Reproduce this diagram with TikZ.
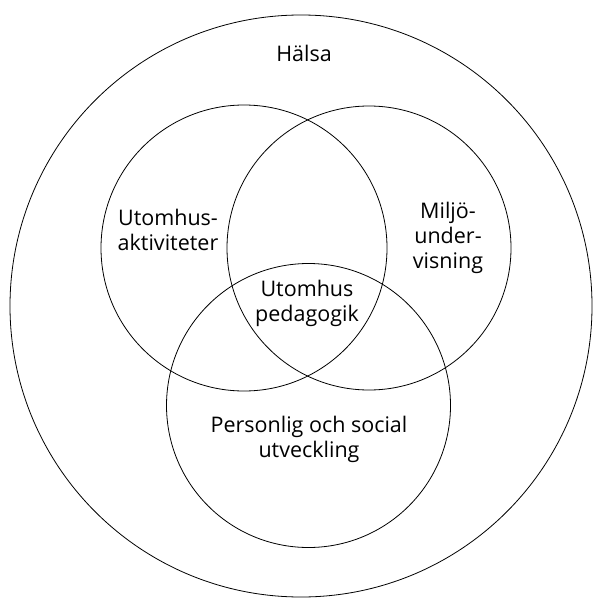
\documentclass[tikz,border=0pt]{standalone}
\usepackage{fontspec}
\setmainfont{Open Sans}

\begin{document}
\begin{tikzpicture}[
x=1pt, y=-1pt,
ring/.style={draw, line width=0.8pt, shape=circle, inner sep=0pt},
lbl/.style={align=center, font=\fontsize{21.5}{25}\selectfont, inner sep=0pt}
]

\useasboundingbox (0,0) rectangle (595,599);

% circles
\node[ring, minimum size=582pt] (halsa) at (301,306) {};
\node[ring, minimum size=286pt] (aktiv) at (244,248) {};
\node[ring, minimum size=284pt] (miljo) at (369,248) {};
\node[ring, minimum size=284pt] (social) at (308.5,405.5) {};

% texts
\node[lbl, anchor=base] (thalsa) at (304,62) {Hälsa};
\node[lbl] (taktiv) at (168,230) {Utomhus-\\aktiviteter};
\node[lbl] (tmiljo) at (448,237.5) {Miljö-\\under-\\visning};
\node[lbl] (tped) at (307,303) {Utomhus\\pedagogik};
\node[lbl] (tsocial) at (309,439) {Personlig och social\\utveckling};
\end{tikzpicture}
\end{document}
